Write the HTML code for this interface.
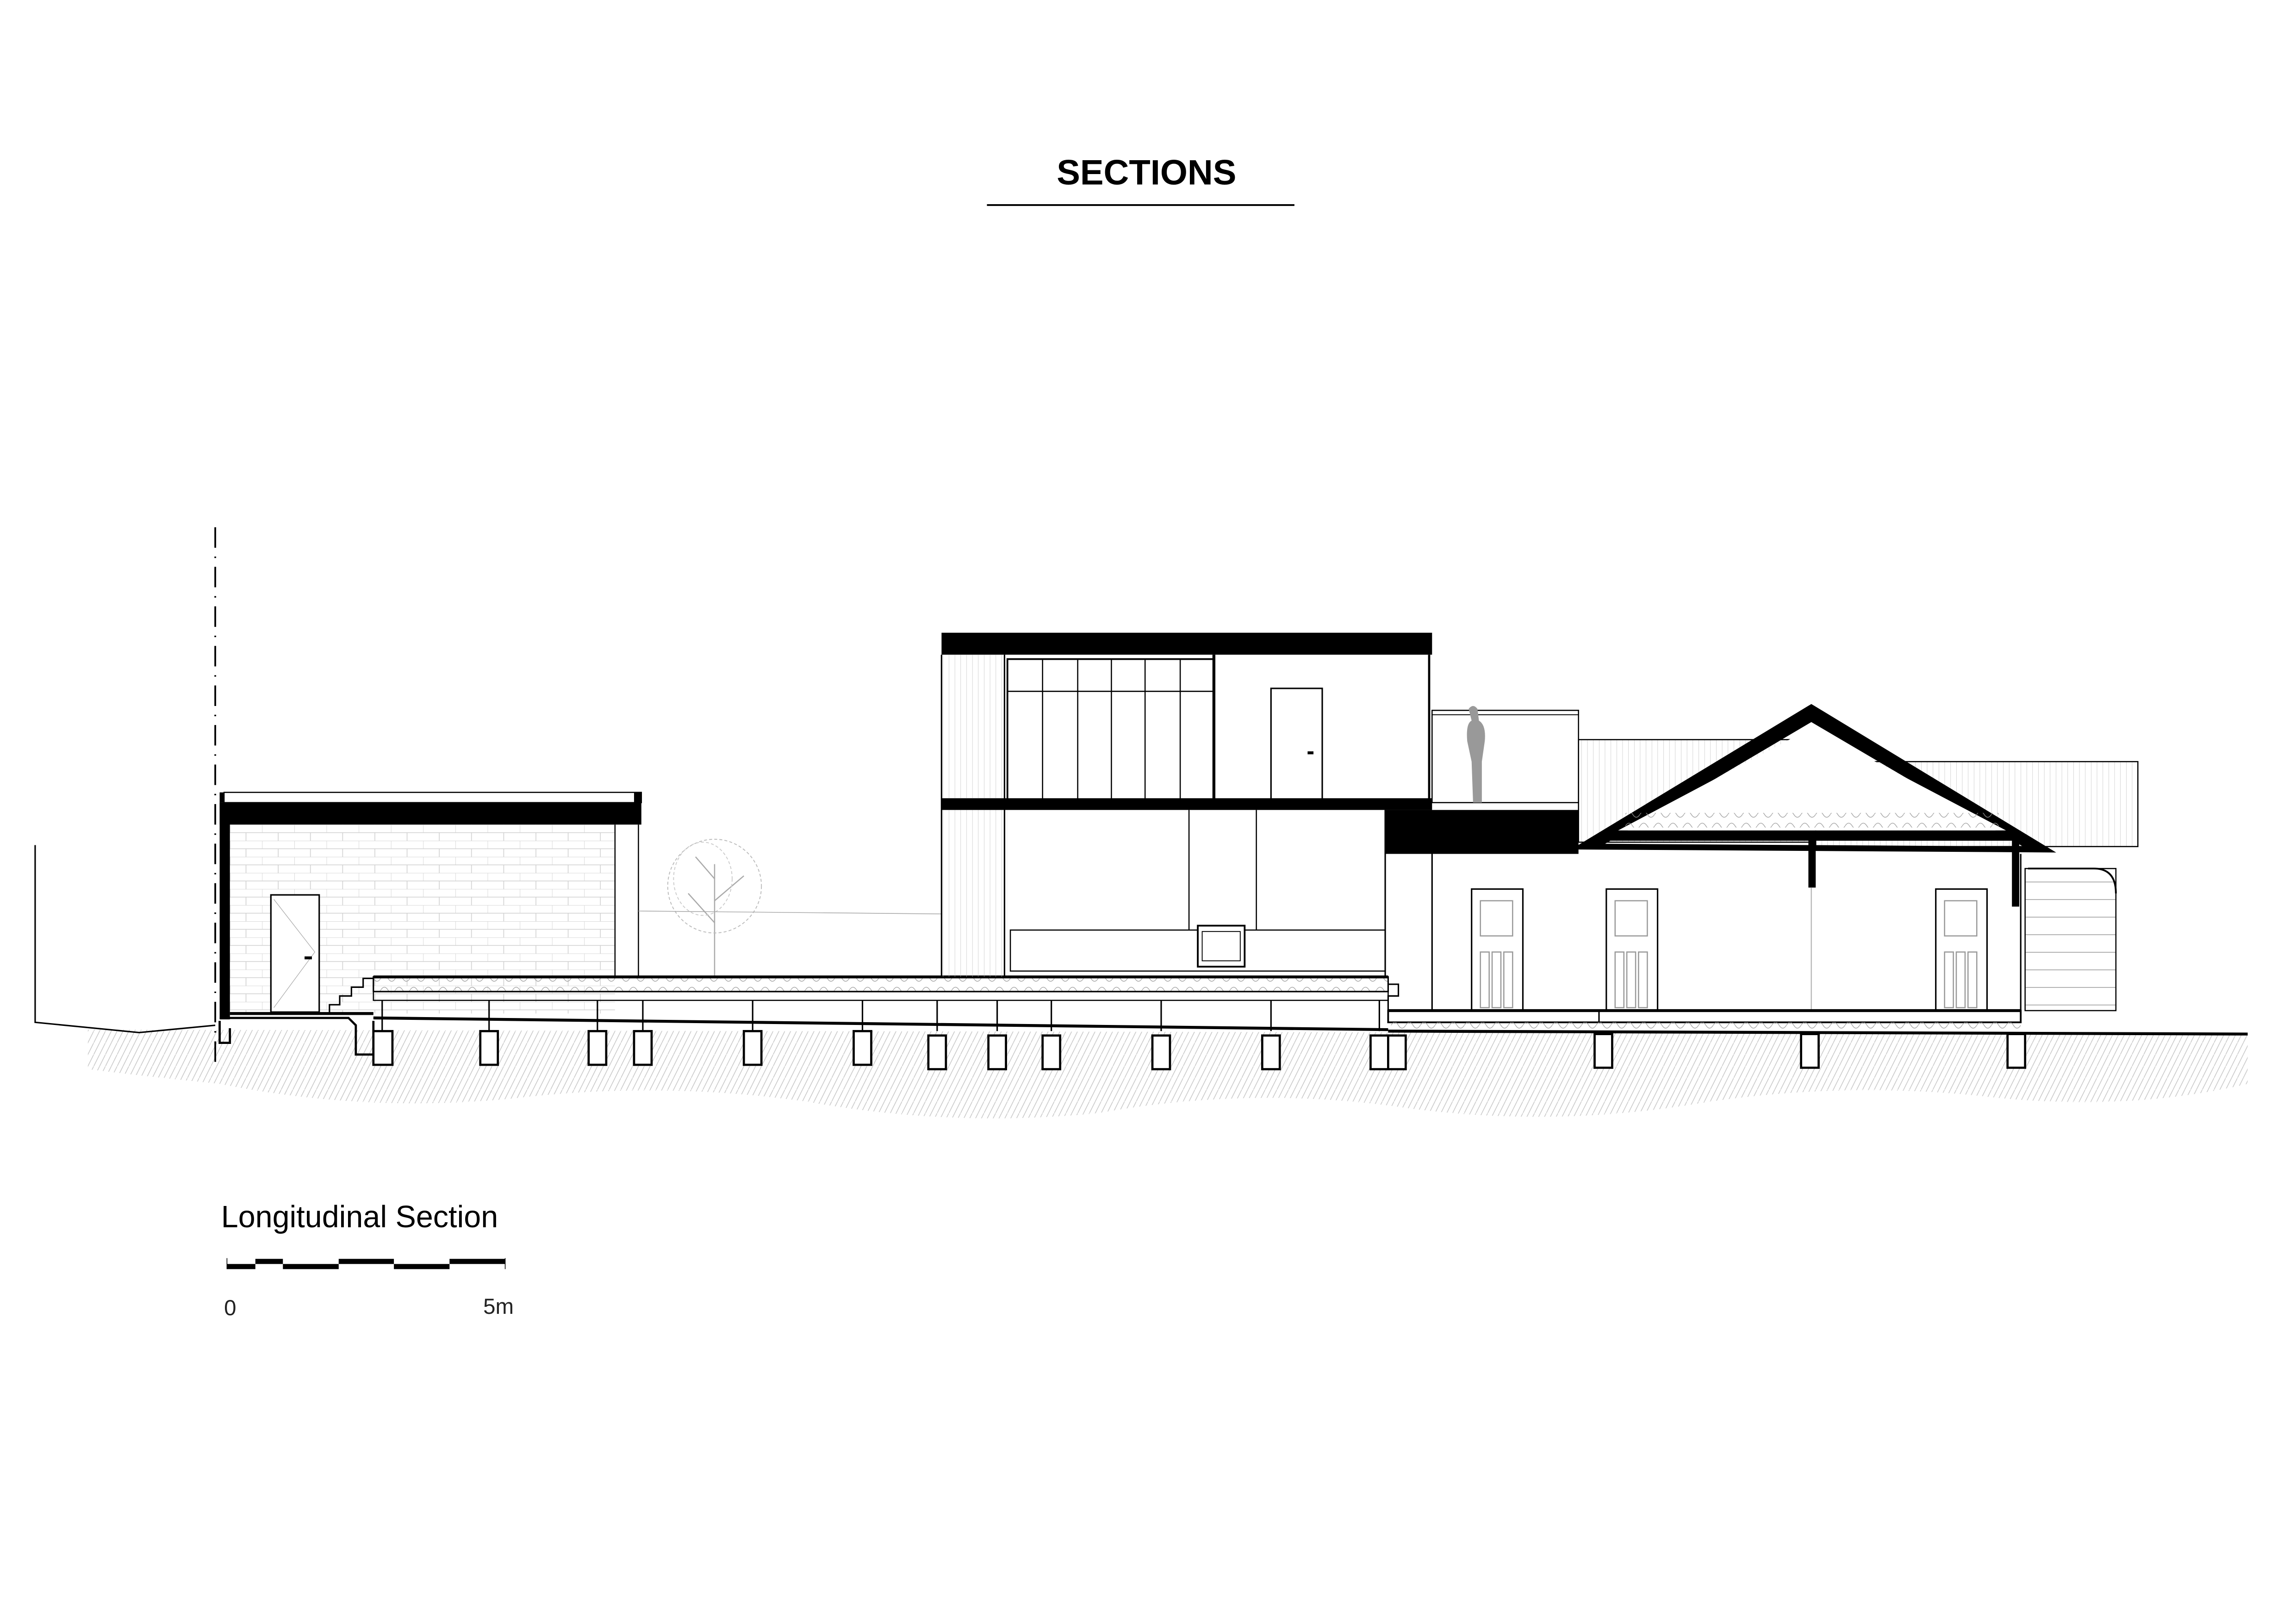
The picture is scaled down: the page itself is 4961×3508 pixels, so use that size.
<!DOCTYPE html>
<html><head><meta charset="utf-8"><style>
html,body{margin:0;padding:0;background:#fff;}
svg{display:block;}
text{font-family:"Liberation Sans",sans-serif;}
</style></head><body>
<svg width="4961" height="3508" viewBox="0 0 1568 1108.8" preserveAspectRatio="none" xmlns="http://www.w3.org/2000/svg">
<defs>
<pattern id="hatch" width="8" height="8" patternUnits="userSpaceOnUse">
<path d="M0 8 L4 0 M4 8 L8 0" stroke="#c8c8c8" stroke-width="0.5"/>
</pattern>
<pattern id="brick" width="22" height="11" patternUnits="userSpaceOnUse" x="157" y="563">
<path d="M0 0 H22 M0 5.5 H22 M0 0 V5.5 M11 5.5 V11" stroke="#d0d0d0" stroke-width="0.5" fill="none"/>
</pattern>
<pattern id="vclad" width="4" height="10" patternUnits="userSpaceOnUse">
<path d="M0 0 V10" stroke="#bbb" stroke-width="0.4"/>
</pattern>
<pattern id="wboard" width="10" height="12" patternUnits="userSpaceOnUse" y="590">
<path d="M0 0 H10" stroke="#777" stroke-width="0.7"/>
</pattern>
<pattern id="insul" width="10" height="8" patternUnits="userSpaceOnUse">
<path d="M0 4 Q2.5 0 5 4 Q7.5 8 10 4" stroke="#999" stroke-width="0.4" fill="none"/>
</pattern>
</defs>
<rect width="1600" height="1120" fill="#fff"/>

<text x="783" y="126" font-size="24" font-weight="bold" text-anchor="middle">SECTIONS</text>
<line x1="674" y1="140" x2="884" y2="140" stroke="#000" stroke-width="1.2"/>

<path d="M60 703 L1535 706 L1535 740 Q1450 760 1350 748 Q1250 738 1150 755 Q1050 770 950 755 Q850 742 750 760 Q650 770 550 752 Q450 738 350 750 Q250 760 150 740 Q100 735 60 730 Z" fill="url(#hatch)"/>

<line x1="147" y1="360" x2="147" y2="730" stroke="#000" stroke-width="1.2" stroke-dasharray="14 6 1 6"/>
<polyline points="24,577 24,698 95,705 147,700" fill="none" stroke="#000" stroke-width="1"/>
<line x1="948" y1="704" x2="1535" y2="706" stroke="#000" stroke-width="2"/>
<line x1="255" y1="695" x2="948" y2="703" stroke="#000" stroke-width="2"/>

<rect x="153" y="541" width="285" height="7" fill="none" stroke="#000" stroke-width="0.8"/>
<rect x="150" y="548" width="288" height="15" fill="#000"/>
<rect x="150" y="541" width="3" height="7" fill="#000"/><rect x="433" y="541" width="5" height="7" fill="#000"/>
<rect x="157" y="563" width="263" height="129" fill="url(#brick)"/>
<rect x="150" y="548" width="7" height="148" fill="#000"/>
<line x1="420" y1="563" x2="420" y2="668" stroke="#000" stroke-width="0.8"/>
<line x1="436" y1="563" x2="436" y2="668" stroke="#000" stroke-width="0.8"/>
<rect x="185" y="611" width="33" height="80" fill="#fff" stroke="#000" stroke-width="1"/>
<polyline points="187,614 215,650 187,688" fill="none" stroke="#aaa" stroke-width="0.4"/>
<rect x="208" y="653" width="5" height="2" fill="#000"/>
<line x1="157" y1="692" x2="255" y2="692" stroke="#000" stroke-width="2"/>
<path d="M150 695 L238 695 L243 700 L243 720 L255 720 L255 697" fill="none" stroke="#000" stroke-width="1.5"/>
<path d="M150 697 L150 712 L157 712 L157 702" fill="none" stroke="#000" stroke-width="1.5"/>
<polyline points="225,692 225,686 232,686 232,680 240,680 240,674 248,674 248,668 255,668" fill="none" stroke="#000" stroke-width="1"/>

<g fill="none" stroke="#aaa" stroke-width="0.8">
<line x1="488" y1="668" x2="488" y2="590"/>
<path d="M488 630 L470 610 M488 615 L508 598 M488 600 L475 585"/>
</g>
<ellipse cx="488" cy="605" rx="32" ry="32" fill="none" stroke="#bbb" stroke-width="0.6" stroke-dasharray="2 1.5"/>
<ellipse cx="480" cy="600" rx="20" ry="25" fill="none" stroke="#ccc" stroke-width="0.6" stroke-dasharray="2 1.5"/>
<line x1="436" y1="622" x2="643" y2="624" stroke="#aaa" stroke-width="0.5"/>

<rect x="255" y="667" width="693" height="10" fill="url(#insul)" stroke="#000" stroke-width="1"/>
<line x1="255" y1="667" x2="948" y2="667" stroke="#000" stroke-width="2"/>
<rect x="255" y="677" width="693" height="6" fill="none" stroke="#000" stroke-width="0.8"/>
<g stroke="#000" stroke-width="1">
<line x1="261" y1="683" x2="261" y2="704"/><line x1="334" y1="683" x2="334" y2="704"/>
<line x1="408" y1="683" x2="408" y2="704"/><line x1="439" y1="683" x2="439" y2="704"/>
<line x1="514" y1="683" x2="514" y2="704"/><line x1="589" y1="683" x2="589" y2="704"/>
<line x1="640" y1="683" x2="640" y2="704"/><line x1="681" y1="683" x2="681" y2="704"/>
<line x1="718" y1="683" x2="718" y2="704"/><line x1="793" y1="683" x2="793" y2="704"/>
<line x1="868" y1="683" x2="868" y2="704"/><line x1="942" y1="683" x2="942" y2="704"/>
</g>
<g fill="#fff" stroke="#000" stroke-width="1.5">
<rect x="255" y="704" width="13" height="23"/><rect x="328" y="704" width="12" height="23"/>
<rect x="402" y="704" width="12" height="23"/><rect x="433" y="704" width="12" height="23"/>
<rect x="508" y="704" width="12" height="23"/><rect x="583" y="704" width="12" height="23"/>
<rect x="634" y="707" width="12" height="23"/><rect x="675" y="707" width="12" height="23"/>
<rect x="712" y="707" width="12" height="23"/><rect x="787" y="707" width="12" height="23"/>
<rect x="862" y="707" width="12" height="23"/><rect x="936" y="707" width="12" height="23"/>
<rect x="948" y="707" width="12" height="23"/><rect x="1089" y="706" width="12" height="23"/>
<rect x="1230" y="706" width="12" height="23"/><rect x="1371" y="706" width="12" height="23"/>
</g>

<rect x="643" y="432" width="335" height="15" fill="#000"/>
<rect x="643" y="545" width="335" height="8" fill="#000"/>
<rect x="643" y="447" width="45" height="98" fill="url(#vclad)"/>
<rect x="643" y="553" width="45" height="114" fill="url(#vclad)"/>
<line x1="643" y1="447" x2="643" y2="667" stroke="#000" stroke-width="1"/>
<line x1="686" y1="447" x2="686" y2="667" stroke="#000" stroke-width="1"/>
<rect x="688" y="450" width="141" height="98" fill="none" stroke="#000" stroke-width="1.2"/>
<g stroke="#000" stroke-width="0.8">
<line x1="712" y1="450" x2="712" y2="548"/><line x1="736" y1="450" x2="736" y2="548"/>
<line x1="759" y1="450" x2="759" y2="548"/><line x1="782" y1="450" x2="782" y2="548"/>
<line x1="806" y1="450" x2="806" y2="548"/><line x1="688" y1="472" x2="829" y2="472"/>
</g>
<line x1="829" y1="447" x2="829" y2="548" stroke="#000" stroke-width="2"/>
<rect x="868" y="470" width="35" height="78" fill="none" stroke="#000" stroke-width="1"/>
<rect x="893" y="513" width="4" height="2" fill="#000"/>
<line x1="976" y1="447" x2="976" y2="548" stroke="#000" stroke-width="1.5"/>
<line x1="812" y1="553" x2="812" y2="635" stroke="#000" stroke-width="0.8"/>
<line x1="858" y1="553" x2="858" y2="635" stroke="#000" stroke-width="0.8"/>
<rect x="690" y="635" width="256" height="28" fill="none" stroke="#000" stroke-width="0.8"/>
<rect x="818" y="632" width="32" height="28" fill="#fff" stroke="#000" stroke-width="1.2"/>
<rect x="821" y="636" width="26" height="20" fill="none" stroke="#000" stroke-width="0.6"/>
<line x1="946" y1="553" x2="946" y2="667" stroke="#000" stroke-width="1"/>
<rect x="946" y="553" width="132" height="30" fill="#000"/>

<rect x="978" y="485" width="100" height="63" fill="none" stroke="#000" stroke-width="0.8"/>
<line x1="978" y1="488" x2="1078" y2="488" stroke="#000" stroke-width="0.6"/>
<path d="M1003 484 q3 -4 6 0 l1 8 q5 3 4 14 l-2 14 l0 28 l-6 0 l-1 -28 l-3 -14 q-1 -12 3 -14 z" fill="#999"/>

<rect x="1078" y="505" width="162" height="70" fill="url(#vclad)" stroke="#000" stroke-width="0.8"/>
<rect x="1240" y="520" width="220" height="58" fill="url(#vclad)" stroke="#000" stroke-width="0.8"/>

<polygon points="1237,483 1080,578 1093,578 1237,493 1385,580 1397,580" fill="#000"/>
<polygon points="1237,483 1080,578 1397,580" fill="none" stroke="#000" stroke-width="4" stroke-linejoin="miter"/>
<polygon points="1237,497 1105,567 1370,567" fill="#fff"/>
<rect x="1110" y="555" width="255" height="10" fill="url(#insul)"/>
<rect x="1100" y="567" width="278" height="7" fill="#000"/>
<rect x="1235" y="574" width="5" height="32" fill="#000"/>
<line x1="1237" y1="606" x2="1237" y2="690" stroke="#bbb" stroke-width="0.8"/>
<rect x="1374" y="574" width="5" height="45" fill="#000"/>
<line x1="978" y1="583" x2="978" y2="690" stroke="#000" stroke-width="1"/>
<line x1="1380" y1="583" x2="1380" y2="690" stroke="#000" stroke-width="1"/>
<rect x="1383" y="593" width="62" height="97" fill="url(#wboard)" stroke="#000" stroke-width="0.8"/>
<path d="M1385 593 L1430 593 Q1445 593 1445 610" fill="none" stroke="#000" stroke-width="1.2"/>
<g fill="#fff" stroke="#000" stroke-width="1">
<rect x="1005" y="607" width="35" height="83"/><rect x="1097" y="607" width="35" height="83"/><rect x="1322" y="607" width="35" height="83"/>
</g>
<g fill="none" stroke="#999" stroke-width="0.8">
<rect x="1011" y="615" width="22" height="24"/><rect x="1103" y="615" width="22" height="24"/><rect x="1328" y="615" width="22" height="24"/>
<rect x="1011" y="650" width="6" height="38"/><rect x="1019" y="650" width="6" height="38"/><rect x="1027" y="650" width="6" height="38"/>
<rect x="1103" y="650" width="6" height="38"/><rect x="1111" y="650" width="6" height="38"/><rect x="1119" y="650" width="6" height="38"/>
<rect x="1328" y="650" width="6" height="38"/><rect x="1336" y="650" width="6" height="38"/><rect x="1344" y="650" width="6" height="38"/>
</g>
<rect x="948" y="690" width="432" height="8" fill="none" stroke="#000" stroke-width="1.2"/>
<rect x="950" y="698" width="430" height="5" fill="url(#insul)"/>
<line x1="948" y1="690" x2="1380" y2="690" stroke="#000" stroke-width="2"/>
<line x1="1092" y1="690" x2="1092" y2="698" stroke="#000" stroke-width="1"/>
<polyline points="948,690 948,680 955,680 955,672 948,672" fill="none" stroke="#000" stroke-width="1"/>

<text x="151" y="838" font-size="21">Longitudinal Section</text>
<g fill="#000">
<rect x="155" y="863" width="19.4" height="3.5"/>
<rect x="174.4" y="859.5" width="18.8" height="3.5"/>
<rect x="193.2" y="863" width="38.1" height="3.5"/>
<rect x="231.3" y="859.5" width="37.7" height="3.5"/>
<rect x="269" y="863" width="38" height="3.5"/>
<rect x="307" y="859.5" width="38" height="3.5"/>
</g>
<line x1="155" y1="859" x2="155" y2="866.5" stroke="#000" stroke-width="0.5"/>
<line x1="345" y1="859" x2="345" y2="866.5" stroke="#000" stroke-width="0.5"/>
<text x="153" y="898" font-size="15" fill="#222">0</text>
<text x="330" y="897" font-size="15" fill="#222">5m</text>
</svg>
</body></html>
